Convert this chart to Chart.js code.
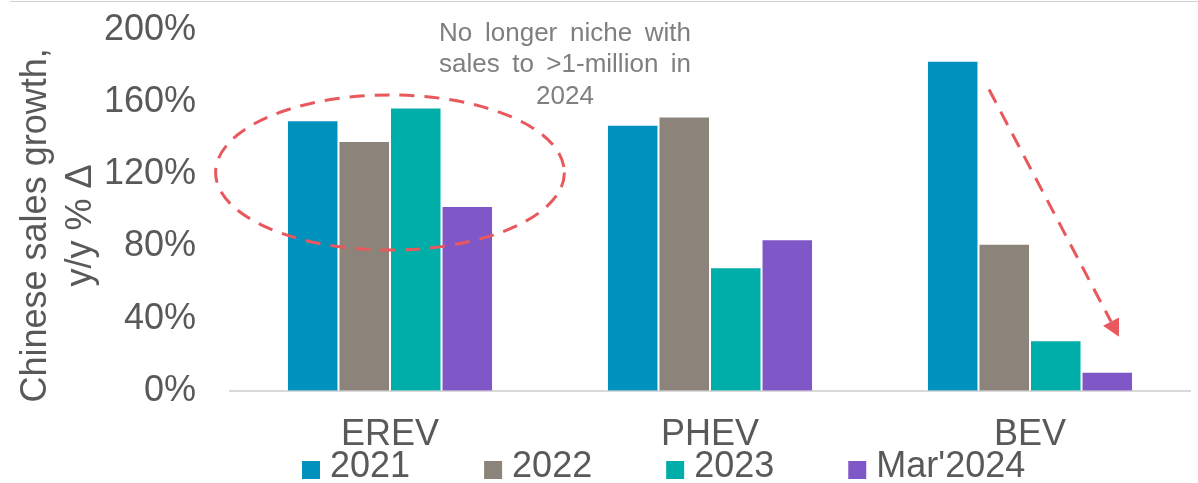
<!DOCTYPE html>
<html><head><meta charset="utf-8">
<script src="https://cdn.jsdelivr.net/npm/chart.js@4"></script>
<style>
html,body{margin:0;padding:0;background:#fff;}
#wrap{position:relative;width:1198px;height:483px;}
#topline{position:absolute;left:10px;right:0;top:1px;height:1px;background:#cfcfcf;}
canvas{display:block;}
</style></head>
<body><div id="wrap"><div id="topline"></div><canvas id="c" width="1198" height="483"></canvas></div>
<script>
const categories = ["EREV", "PHEV", "BEV"];
const seriesLabels = ["2021", "2022", "2023", "Mar'2024"];
const values2021 = [150, 147.5, 183];
const values2022 = [138.5, 152, 81.5];
const values2023 = [157, 68.5, 28];
const valuesMar2024 = [102.5, 84, 10.5];
const yTicks = [0, 40, 80, 120, 160, 200];
const yTitle = ["Chinese sales growth,   ", "y/y % \u0394   "];
const noteLines = ["No longer niche with", "sales to >1-million in", "2024"];
const colors = ["#0091BD", "#8C847A", "#00AEA9", "#7F57C6"];

const FONT = "'Liberation Sans', Arial, sans-serif";
const TEXT = "#595959";
const RED = "#E8585C";

const annotations = {
  id: 'annotations',
  afterDatasetsDraw(chart) {
    const {ctx, scales: {x, y}} = chart;
    const cw = x.getPixelForValue(1) - x.getPixelForValue(0);
    ctx.save();
    ctx.strokeStyle = RED;
    ctx.lineWidth = 3;
    ctx.setLineDash([15, 10]);
    // ellipse around EREV
    const cx = x.getPixelForValue(0);
    const cy = y.getPixelForValue(121);
    const rx = 0.545 * cw;
    const ry = y.getPixelForValue(78) - cy;
    ctx.beginPath();
    ctx.ellipse(cx, cy, rx, ry, 0, 0, Math.PI * 2);
    ctx.stroke();
    // arrow on BEV
    const x1 = x.getPixelForValue(2) - 0.128 * cw, y1 = y.getPixelForValue(167);
    const x2 = x.getPixelForValue(2) + 0.278 * cw, y2 = y.getPixelForValue(30);
    const ang = Math.atan2(y2 - y1, x2 - x1);
    const head = 17;
    const bx = x2 - head * Math.cos(ang), by = y2 - head * Math.sin(ang);
    ctx.beginPath();
    ctx.moveTo(x1, y1);
    ctx.lineTo(bx, by);
    ctx.stroke();
    ctx.setLineDash([]);
    ctx.fillStyle = RED;
    ctx.beginPath();
    ctx.moveTo(x2, y2);
    ctx.lineTo(bx + 9 * Math.cos(ang + Math.PI / 2), by + 9 * Math.sin(ang + Math.PI / 2));
    ctx.lineTo(bx - 9 * Math.cos(ang + Math.PI / 2), by - 9 * Math.sin(ang + Math.PI / 2));
    ctx.closePath();
    ctx.fill();
    // note text (justified)
    ctx.fillStyle = "#7F7F7F";
    ctx.font = "26px " + FONT;
    ctx.textBaseline = "middle";
    const tx = x.getPixelForValue(0) + 0.547 * cw;
    const w = 252;
    const lineYs = [198, 180.5, 163];
    noteLines.forEach((line, i) => {
      const ly = y.getPixelForValue(lineYs[i]);
      const words = line.split(" ");
      if (i === noteLines.length - 1 || words.length === 1) {
        ctx.textAlign = "center";
        ctx.fillText(line, tx, ly);
        return;
      }
      ctx.textAlign = "left";
      const ws = words.map(wd => ctx.measureText(wd).width);
      const tot = ws.reduce((a, b) => a + b, 0);
      const gap = (w - tot) / (words.length - 1);
      let px = tx - w / 2;
      words.forEach((wd, j) => { ctx.fillText(wd, px, ly); px += ws[j] + gap; });
    });
    ctx.restore();
  }
};

const customLegend = {
  id: 'customLegend',
  afterDraw(chart) {
    const {ctx, chartArea} = chart;
    ctx.save();
    ctx.font = "36px " + FONT;
    ctx.textBaseline = "middle";
    ctx.textAlign = "left";
    let px = chartArea.left + 72;
    chart.data.datasets.forEach(ds => {
      ctx.fillStyle = ds.backgroundColor;
      ctx.fillRect(px, 461, 18, 18);
      ctx.fillStyle = TEXT;
      ctx.fillText(ds.label, px + 28, 467);
      px += 28 + ctx.measureText(ds.label).width + 74;
    });
    ctx.restore();
  }
};

const seriesValues = [values2021, values2022, values2023, valuesMar2024];
new Chart(document.getElementById('c'), {
  type: 'bar',
  data: {
    labels: categories,
    datasets: seriesLabels.map((lab, i) => ({
      label: lab,
      data: seriesValues[i],
      backgroundColor: colors[i],
      borderColor: 'rgba(255,255,255,0.5)',
      borderWidth: 1,
      barPercentage: 1,
      categoryPercentage: 0.644
    }))
  },
  options: {
    responsive: false,
    animation: false,
    layout: {padding: {top: 30, right: 8, bottom: 3, left: 0}},
    plugins: {legend: {display: false}, tooltip: {enabled: false}},
    scales: {
      x: {
        grid: {display: false, drawTicks: false},
        border: {display: true, color: '#D9D9D9', width: 2},
        ticks: {color: TEXT, font: {family: FONT, size: 36}, padding: 23}
      },
      y: {
        min: 0, max: 200,
        afterBuildTicks(scale) { scale.ticks = yTicks.map(v => ({value: v})); },
        afterFit(scale) { scale.width = 230; scale.paddingTop = 0; scale.paddingBottom = 0; },
        grid: {display: false, drawTicks: false},
        border: {display: false},
        ticks: {color: TEXT, font: {family: FONT, size: 36}, padding: 34, callback: v => v + '%'},
        title: {display: true, text: yTitle, color: TEXT, font: {family: FONT, size: 36, lineHeight: 1.25}, padding: {top: 14, bottom: 0}}
      }
    }
  },
  plugins: [annotations, customLegend]
});
</script></body></html>
